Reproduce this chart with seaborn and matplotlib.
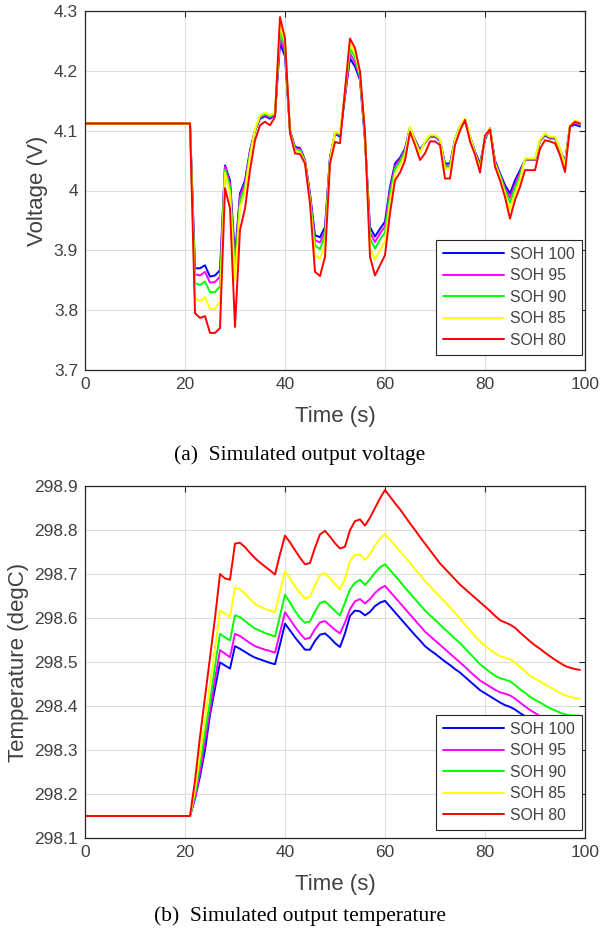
import numpy as np
import pandas as pd
import matplotlib
matplotlib.use("Agg")
import matplotlib.pyplot as plt
from matplotlib.ticker import FuncFormatter
import seaborn as sns

# ---------------- data ----------------
time_s = [0, 21] + list(range(22, 100))
series_names = ["SOH 100", "SOH 95", "SOH 90", "SOH 85", "SOH 80"]
series_colors = ["#0000ff", "#ff00ff", "#00ff00", "#ffff00", "#ff0000"]
x_ticks = [0, 20, 40, 60, 80, 100]
v_ticks = [3.7, 3.8, 3.9, 4.0, 4.1, 4.2, 4.3]
t_ticks = [298.1, 298.2, 298.3, 298.4, 298.5, 298.6, 298.7, 298.8, 298.9]

volt_soh100 = [4.112, 4.112,
    3.870, 3.870, 3.875, 3.856, 3.858, 3.867, 4.042, 4.017, 3.890, 3.995,
    4.017, 4.067, 4.100, 4.120, 4.124, 4.120, 4.126, 4.246, 4.224, 4.100,
    4.073, 4.071, 4.051, 3.995, 3.925, 3.922, 3.939, 4.056, 4.095, 4.090,
    4.157, 4.221, 4.207, 4.185, 4.084, 3.939, 3.923, 3.936, 3.948, 4.006,
    4.045, 4.055, 4.070, 4.104, 4.085, 4.068, 4.080, 4.090, 4.090, 4.083,
    4.045, 4.045, 4.085, 4.107, 4.115, 4.090, 4.065, 4.045, 4.085, 4.104,
    4.050, 4.029, 4.009, 3.995, 4.017, 4.034, 4.051, 4.051, 4.051, 4.083,
    4.092, 4.087, 4.087, 4.068, 4.048, 4.107, 4.110, 4.107]
volt_soh95 = [4.112, 4.112,
    3.860, 3.858, 3.864, 3.846, 3.847, 3.856, 4.040, 4.012, 3.880, 3.990,
    4.012, 4.065, 4.100, 4.122, 4.126, 4.122, 4.127, 4.255, 4.232, 4.100,
    4.071, 4.069, 4.050, 3.992, 3.917, 3.913, 3.932, 4.055, 4.096, 4.092,
    4.160, 4.229, 4.214, 4.188, 4.087, 3.930, 3.914, 3.928, 3.940, 4.000,
    4.041, 4.052, 4.068, 4.105, 4.084, 4.066, 4.080, 4.091, 4.091, 4.084,
    4.042, 4.042, 4.085, 4.107, 4.117, 4.090, 4.064, 4.042, 4.087, 4.104,
    4.048, 4.027, 4.004, 3.988, 4.010, 4.030, 4.051, 4.051, 4.051, 4.083,
    4.093, 4.088, 4.088, 4.068, 4.046, 4.108, 4.113, 4.109]
volt_soh90 = [4.112, 4.112,
    3.845, 3.842, 3.848, 3.830, 3.830, 3.840, 4.035, 4.005, 3.868, 3.982,
    4.005, 4.062, 4.100, 4.124, 4.128, 4.124, 4.128, 4.265, 4.240, 4.098,
    4.069, 4.067, 4.049, 3.988, 3.908, 3.902, 3.924, 4.053, 4.097, 4.094,
    4.163, 4.237, 4.222, 4.191, 4.090, 3.920, 3.903, 3.918, 3.930, 3.992,
    4.036, 4.048, 4.065, 4.106, 4.083, 4.064, 4.081, 4.092, 4.092, 4.085,
    4.040, 4.040, 4.085, 4.108, 4.118, 4.090, 4.063, 4.039, 4.089, 4.104,
    4.046, 4.025, 4.000, 3.980, 4.004, 4.025, 4.052, 4.052, 4.052, 4.084,
    4.094, 4.089, 4.089, 4.069, 4.044, 4.108, 4.115, 4.111]
volt_soh85 = [4.112, 4.112,
    3.820, 3.815, 3.822, 3.802, 3.802, 3.815, 4.030, 3.995, 3.850, 3.972,
    3.998, 4.058, 4.102, 4.126, 4.130, 4.126, 4.130, 4.278, 4.248, 4.098,
    4.066, 4.064, 4.047, 3.984, 3.892, 3.886, 3.910, 4.050, 4.098, 4.096,
    4.166, 4.246, 4.230, 4.195, 4.093, 3.905, 3.884, 3.900, 3.915, 3.980,
    4.028, 4.042, 4.060, 4.107, 4.082, 4.062, 4.082, 4.093, 4.093, 4.086,
    4.036, 4.036, 4.085, 4.108, 4.120, 4.090, 4.062, 4.035, 4.090, 4.104,
    4.044, 4.022, 3.995, 3.968, 3.995, 4.018, 4.054, 4.054, 4.054, 4.085,
    4.096, 4.090, 4.090, 4.070, 4.042, 4.109, 4.117, 4.113]
volt_soh80 = [4.112, 4.112,
    3.795, 3.787, 3.790, 3.762, 3.762, 3.770, 4.004, 3.970, 3.772, 3.934,
    3.970, 4.034, 4.084, 4.109, 4.115, 4.109, 4.123, 4.290, 4.254, 4.096,
    4.062, 4.061, 4.045, 3.978, 3.864, 3.857, 3.889, 4.045, 4.081, 4.079,
    4.168, 4.254, 4.238, 4.199, 4.096, 3.889, 3.858, 3.875, 3.892, 3.962,
    4.017, 4.030, 4.050, 4.098, 4.076, 4.051, 4.062, 4.082, 4.082, 4.076,
    4.020, 4.020, 4.076, 4.100, 4.118, 4.082, 4.060, 4.030, 4.092, 4.102,
    4.040, 4.017, 3.989, 3.953, 3.984, 4.006, 4.034, 4.034, 4.034, 4.070,
    4.084, 4.082, 4.079, 4.059, 4.031, 4.107, 4.115, 4.112]

temp_soh100 = [298.15, 298.15,
    298.19, 298.24, 298.30, 298.38, 298.44, 298.499, 298.492, 298.485, 298.536, 298.530,
    298.523, 298.516, 298.510, 298.506, 298.502, 298.498, 298.495, 298.540, 298.587, 298.572,
    298.556, 298.542, 298.528, 298.528, 298.548, 298.562, 298.565, 298.555, 298.543, 298.534,
    298.565, 298.605, 298.617, 298.615, 298.606, 298.614, 298.627, 298.635, 298.639, 298.626,
    298.613, 298.600, 298.587, 298.574, 298.561, 298.549, 298.536, 298.527, 298.519, 298.510,
    298.501, 298.493, 298.484, 298.476, 298.466, 298.456, 298.446, 298.436, 298.429, 298.422,
    298.415, 298.408, 298.402, 298.398, 298.392, 298.384, 298.377, 298.370, 298.364, 298.359,
    298.354, 298.350, 298.346, 298.342, 298.339, 298.336, 298.334, 298.333]
temp_soh95 = [298.15, 298.15,
    298.19, 298.25, 298.32, 298.39, 298.46, 298.527, 298.519, 298.511, 298.564, 298.559,
    298.551, 298.543, 298.536, 298.532, 298.528, 298.525, 298.521, 298.567, 298.613, 298.597,
    298.580, 298.565, 298.552, 298.555, 298.575, 298.590, 298.593, 298.583, 298.573, 298.565,
    298.590, 298.620, 298.638, 298.643, 298.633, 298.643, 298.657, 298.667, 298.673, 298.660,
    298.647, 298.634, 298.621, 298.608, 298.595, 298.582, 298.569, 298.559, 298.549, 298.539,
    298.529, 298.519, 298.509, 298.499, 298.489, 298.478, 298.468, 298.458, 298.451, 298.444,
    298.437, 298.431, 298.428, 298.424, 298.417, 298.408, 298.399, 298.391, 298.384, 298.377,
    298.371, 298.365, 298.360, 298.356, 298.352, 298.350, 298.349, 298.348]
temp_soh90 = [298.15, 298.15,
    298.20, 298.27, 298.34, 298.41, 298.49, 298.564, 298.556, 298.549, 298.606, 298.602,
    298.593, 298.584, 298.576, 298.571, 298.566, 298.562, 298.558, 298.605, 298.653, 298.635,
    298.616, 298.600, 298.589, 298.592, 298.615, 298.634, 298.638, 298.627, 298.616, 298.606,
    298.635, 298.665, 298.680, 298.687, 298.675, 298.688, 298.703, 298.715, 298.722, 298.709,
    298.696, 298.683, 298.669, 298.656, 298.643, 298.630, 298.617, 298.606, 298.596, 298.585,
    298.574, 298.564, 298.553, 298.543, 298.531, 298.519, 298.507, 298.495, 298.486, 298.477,
    298.469, 298.463, 298.460, 298.456, 298.448, 298.438, 298.430, 298.421, 298.414, 298.408,
    298.401, 298.395, 298.390, 298.385, 298.381, 298.379, 298.378, 298.378]
temp_soh85 = [298.15, 298.15,
    298.21, 298.29, 298.37, 298.45, 298.53, 298.617, 298.610, 298.602, 298.669, 298.665,
    298.655, 298.643, 298.632, 298.626, 298.621, 298.617, 298.613, 298.660, 298.706, 298.690,
    298.672, 298.657, 298.645, 298.648, 298.675, 298.697, 298.702, 298.690, 298.677, 298.665,
    298.690, 298.730, 298.743, 298.744, 298.732, 298.745, 298.765, 298.780, 298.791, 298.778,
    298.765, 298.752, 298.739, 298.725, 298.711, 298.698, 298.684, 298.672, 298.660, 298.648,
    298.636, 298.624, 298.611, 298.599, 298.585, 298.572, 298.559, 298.547, 298.537, 298.528,
    298.520, 298.513, 298.510, 298.506, 298.499, 298.489, 298.479, 298.469, 298.462, 298.456,
    298.449, 298.443, 298.436, 298.430, 298.424, 298.421, 298.418, 298.417]
temp_soh80 = [298.15, 298.15,
    298.23, 298.33, 298.42, 298.51, 298.60, 298.700, 298.690, 298.687, 298.769, 298.771,
    298.761, 298.748, 298.736, 298.726, 298.717, 298.708, 298.699, 298.745, 298.787, 298.772,
    298.754, 298.737, 298.722, 298.725, 298.760, 298.790, 298.798, 298.785, 298.770, 298.758,
    298.762, 298.800, 298.820, 298.824, 298.810, 298.828, 298.850, 298.872, 298.891, 298.876,
    298.861, 298.847, 298.831, 298.815, 298.800, 298.784, 298.769, 298.754, 298.739, 298.724,
    298.712, 298.700, 298.688, 298.676, 298.666, 298.656, 298.646, 298.636, 298.626, 298.616,
    298.605, 298.595, 298.590, 298.585, 298.578, 298.567, 298.557, 298.547, 298.538, 298.530,
    298.521, 298.513, 298.505, 298.498, 298.491, 298.487, 298.484, 298.482]

volt_series = [volt_soh100, volt_soh95, volt_soh90, volt_soh85, volt_soh80]
temp_series = [temp_soh100, temp_soh95, temp_soh90, temp_soh85, temp_soh80]


def long_frame(series_list):
    frames = []
    for name, vals in zip(series_names, series_list):
        frames.append(pd.DataFrame({"time": time_s, "value": vals, "series": name}))
    return pd.concat(frames, ignore_index=True)


df_v = long_frame(volt_series)
df_t = long_frame(temp_series)

# ---------------- style ----------------
sns.set_style("whitegrid")
AX_COL = "#262626"
TXT_COL = "#404040"
plt.rcParams["font.family"] = ["Liberation Sans", "DejaVu Sans"]
plt.rcParams["axes.edgecolor"] = AX_COL
plt.rcParams["axes.linewidth"] = 0.9
plt.rcParams["grid.color"] = "#dedede"
plt.rcParams["grid.linewidth"] = 0.8
plt.rcParams["xtick.color"] = AX_COL
plt.rcParams["ytick.color"] = AX_COL

palette = dict(zip(series_names, series_colors))

fig = plt.figure(figsize=(6.0, 9.43), dpi=100)
ax1 = fig.add_axes([85 / 600, 1 - 370 / 943, 500 / 600, 359 / 943])
ax2 = fig.add_axes([85 / 600, 1 - 838 / 943, 500 / 600, 352 / 943])

fmt = FuncFormatter(lambda v, p: "%g" % round(v, 3))

for ax, df, yticks, ylabel, ylim, leg_y in [
    (ax1, df_v, v_ticks, "Voltage (V)", (3.7, 4.3), 15 / 359),
    (ax2, df_t, t_ticks, "Temperature (degC)", (298.1, 298.9), 8 / 352),
]:
    sns.lineplot(data=df, x="time", y="value", hue="series", hue_order=series_names,
                 palette=palette, linewidth=1.4, ax=ax, estimator=None, sort=False)
    ax.set_xlim(0, 100)
    ax.set_ylim(*ylim)
    ax.set_xticks(x_ticks)
    ax.set_yticks(yticks)
    ax.yaxis.set_major_formatter(fmt)
    ax.xaxis.set_major_formatter(fmt)
    ax.tick_params(axis="both", direction="in", length=4, width=0.8, labelsize=12.5,
                   top=True, right=True, labelcolor=TXT_COL, pad=5)
    for s in ax.spines.values():
        s.set_visible(True)
        s.set_color(AX_COL)
    ax.grid(True)
    ax.set_xlabel("Time (s)", fontsize=16, color=TXT_COL, labelpad=10)
    ax.set_ylabel(ylabel, fontsize=16, color=TXT_COL, labelpad=4)
    leg = ax.legend(loc="lower right", bbox_to_anchor=(0.994, leg_y), borderaxespad=0,
                    fontsize=11.3, frameon=True, fancybox=False, handlelength=3.9,
                    handletextpad=0.4, borderpad=0.45, labelspacing=0.42, title=None)
    leg.get_frame().set_edgecolor(AX_COL)
    leg.get_frame().set_linewidth(0.8)
    leg.get_frame().set_alpha(1.0)
    for txt in leg.get_texts():
        txt.set_color(TXT_COL)

fig.text(0.5, 1 - 455 / 943, "(a)  Simulated output voltage", ha="center", va="center",
         fontsize=15.5, family=["Liberation Serif", "DejaVu Serif"], color="black")
fig.text(0.5, 1 - 916 / 943, "(b)  Simulated output temperature", ha="center", va="center",
         fontsize=15.5, family=["Liberation Serif", "DejaVu Serif"], color="black")

fig.savefig("out.png", dpi=100)
